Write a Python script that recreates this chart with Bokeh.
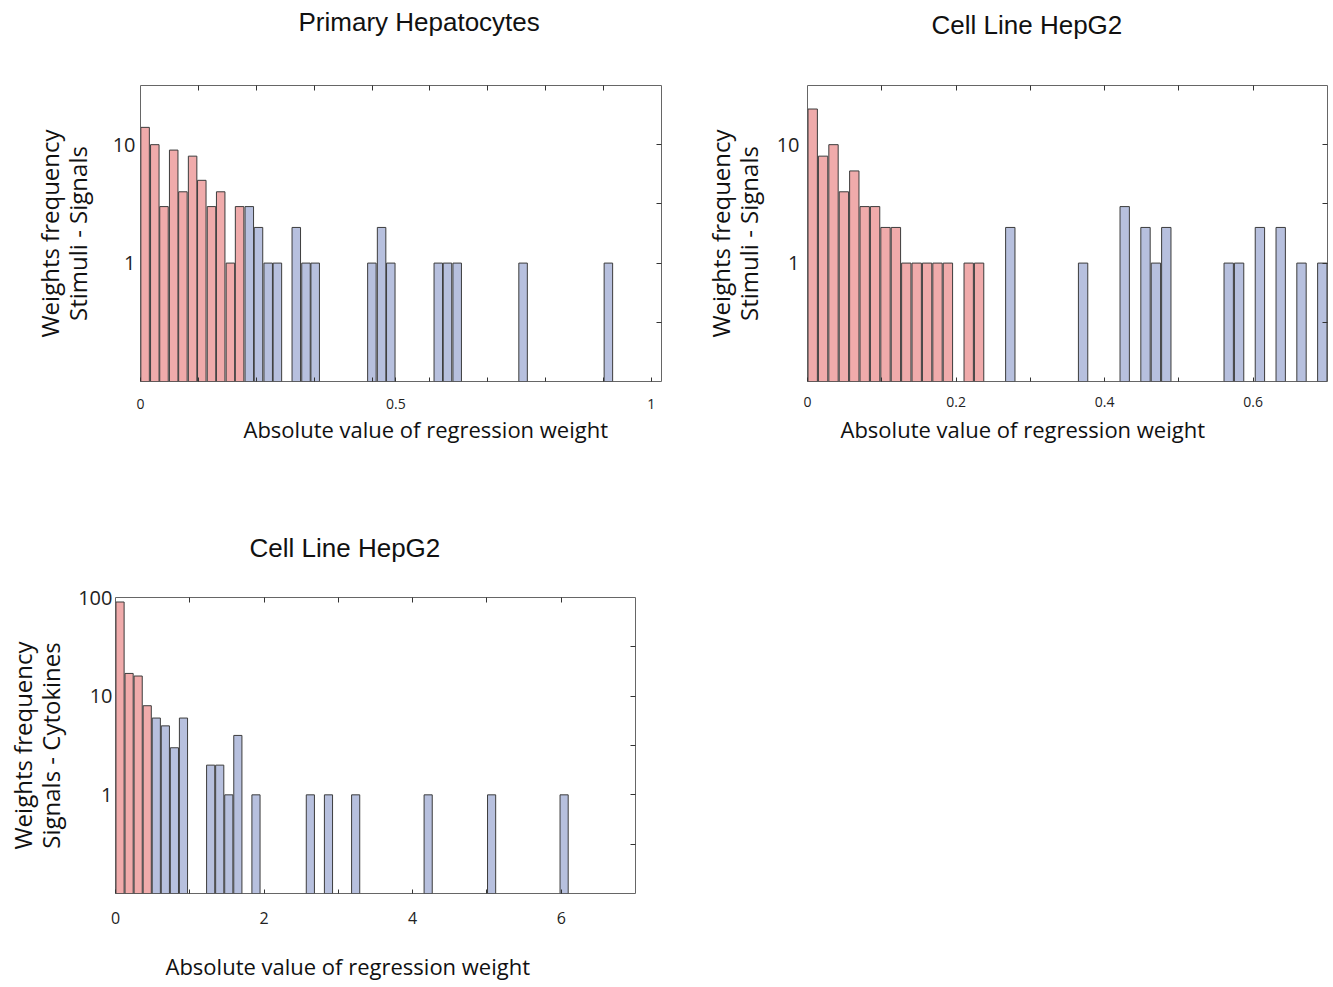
from bokeh.plotting import figure
from bokeh.models import (Range1d, LogAxis, LinearAxis, FixedTicker, Title,
                          ColumnDataSource, BasicTickFormatter)
from bokeh.layouts import column, row
from bokeh.embed import file_html
from bokeh.resources import INLINE

# ---------------- data ----------------
# Panel 1: Primary Hepatocytes (Stimuli - Signals)
P1_BIN_CENTERS = [0.009, 0.028, 0.046, 0.065, 0.083, 0.102, 0.120, 0.139, 0.157, 0.176, 0.194,
                  0.213, 0.231, 0.250, 0.268, 0.305, 0.324, 0.342, 0.453, 0.472, 0.490,
                  0.583, 0.601, 0.620, 0.749, 0.916]
P1_COUNTS = [14, 10, 3, 9, 4, 8, 5, 3, 4, 1, 3,
             3, 2, 1, 1, 2, 1, 1, 1, 2, 1, 1, 1, 1, 1, 1]
P1_N_RED = 11
P1_BIN_W = 0.0185
P1_XMAX = 1.02
P1_XTICKS = [0, 0.5, 1]
P1_XTICK_LABELS = {0: "0", 0.5: "0.5", 1: "1"}

# Panel 2: Cell Line HepG2 (Stimuli - Signals)
P2_BIN_CENTERS = [0.007, 0.021, 0.035, 0.049, 0.063, 0.077, 0.091, 0.105, 0.119, 0.133, 0.147,
                  0.161, 0.175, 0.189, 0.217, 0.231,
                  0.273, 0.371, 0.427, 0.455, 0.469, 0.483, 0.567, 0.581, 0.609, 0.637, 0.665, 0.693]
P2_COUNTS = [20, 8, 10, 4, 6, 3, 3, 2, 2, 1, 1, 1, 1, 1, 1, 1,
             2, 1, 3, 2, 1, 2, 1, 1, 2, 2, 1, 1]
P2_N_RED = 16
P2_BIN_W = 0.014
P2_XMAX = 0.7
P2_XTICKS = [0, 0.2, 0.4, 0.6]
P2_XTICK_LABELS = {0: "0", 0.2: "0.2", 0.4: "0.4", 0.6: "0.6"}

# Panel 3: Cell Line HepG2 (Signals - Cytokines)
P3_BIN_CENTERS = [0.061, 0.183, 0.305, 0.427, 0.549, 0.671, 0.793, 0.915, 1.281, 1.403, 1.525,
                  1.647, 1.891, 2.623, 2.867, 3.233, 4.209, 5.063, 6.039]
P3_COUNTS = [90, 17, 16, 8, 6, 5, 3, 6, 2, 2, 1, 4, 1, 1, 1, 1, 1, 1, 1]
P3_N_RED = 4
P3_BIN_W = 0.122
P3_XMAX = 7
P3_XTICKS = [0, 2, 4, 6]
P3_XTICK_LABELS = {0: "0", 2: "2", 4: "4", 6: "6"}

X_LABEL = "Absolute value of regression weight"
Y_FLOOR = 0.1
Y_TOP_12 = 31.6
Y_TOP_3 = 100

RED = "#F0ABAB"
BLUE = "#B7C0DE"
EDGE = "#3c3c3c"
FRAME = "#666666"
LABEL_FONT = "Open Sans"
TITLE_FONT = "Liberation Sans"


def blank_band(xmax, size):
    """An axis with one practically transparent tick: only reserves room."""
    return LinearAxis(ticker=FixedTicker(ticks=[xmax / 2]), axis_line_color=None,
                      major_tick_in=0, major_tick_out=size,
                      major_tick_line_color="white", major_tick_line_alpha=0.01,
                      minor_tick_in=0, minor_tick_out=0,
                      major_label_text_color=None, major_label_standoff=0)


def panel(title, ylabel, centers, counts, n_red, bin_w, xmax, ytop,
          xticks, xlabels, top_ticks, bottom_minor, yticks, ylabels_map, right_ticks,
          width, height, bl, br, bt, bb, title_offset, title_space,
          xlab_standoff, xlabel_offset, xlabel_space, ytick_standoff, ylab_standoff, xtick_size):
    p = figure(width=width, height=height, output_backend="svg", toolbar_location=None,
               x_range=Range1d(0, xmax), y_range=Range1d(Y_FLOOR, ytop), y_axis_type="log",
               min_border_left=bl, min_border_right=br, min_border_top=bt, min_border_bottom=bb)
    p.title = Title(text=title, align="left", text_font=TITLE_FONT, text_font_size="26px",
                    text_font_style="normal", text_color="#111111",
                    offset=title_offset, standoff=0)
    p.xgrid.visible = False
    p.ygrid.visible = False
    p.outline_line_color = FRAME
    p.outline_line_width = 1
    p.background_fill_color = "white"
    p.border_fill_color = "white"

    red = ColumnDataSource(dict(x=centers[:n_red], top=counts[:n_red]))
    blue = ColumnDataSource(dict(x=centers[n_red:], top=counts[n_red:]))
    for src, col in ((red, RED), (blue, BLUE)):
        p.vbar(x="x", top="top", bottom=Y_FLOOR, width=bin_w * 0.9, source=src,
               fill_color=col, line_color=EDGE, line_width=1)

    # bottom axis
    xa = p.xaxis[0]
    xa.ticker = FixedTicker(ticks=xticks, minor_ticks=bottom_minor)
    xa.major_label_overrides = xlabels
    xa.axis_line_color = None
    xa.major_tick_in = 4
    xa.major_tick_out = 0
    xa.minor_tick_in = 4
    xa.minor_tick_out = 0
    xa.major_tick_line_color = "#333333"
    xa.minor_tick_line_color = "#333333"
    xa.major_label_text_font = LABEL_FONT
    xa.major_label_text_font_size = xtick_size
    xa.major_label_text_color = "#222222"
    xa.major_label_standoff = xlab_standoff
    if xlabel_space > 0:
        p.add_layout(blank_band(xmax, xlabel_space), "below")
    # x-axis title, placed off-centre as in the reference
    p.add_layout(Title(text=X_LABEL, align="left", offset=xlabel_offset, standoff=0,
                       text_font=LABEL_FONT, text_font_size="22px", text_font_style="normal",
                       text_color="#111111"), "below")

    # left axis
    ya = p.yaxis[0]
    ya.ticker = FixedTicker(ticks=yticks)
    ya.formatter = BasicTickFormatter()
    ya.major_label_overrides = ylabels_map
    ya.axis_line_color = None
    ya.major_tick_in = 0
    ya.major_tick_out = 0
    ya.minor_tick_in = 0
    ya.minor_tick_out = 0
    ya.major_label_text_font = LABEL_FONT
    ya.major_label_text_font_size = "20px"
    ya.major_label_text_color = "#222222"
    ya.major_label_standoff = ytick_standoff
    ya.axis_label = ylabel
    ya.axis_label_text_font = LABEL_FONT
    ya.axis_label_text_font_size = "24px"
    ya.axis_label_text_line_height = 0.85
    ya.axis_label_text_font_style = "normal"
    ya.axis_label_text_color = "#111111"
    ya.axis_label_standoff = ylab_standoff

    # top tick marks
    top = LinearAxis(ticker=FixedTicker(ticks=top_ticks), axis_line_color=None,
                     major_tick_in=5, major_tick_out=0, minor_tick_in=0, minor_tick_out=0,
                     major_tick_line_color="#333333",
                     major_label_text_color=None, major_label_text_font_size="11px",
                     major_label_standoff=0)
    p.add_layout(top, "above")
    # blank band between the frame and the title
    p.add_layout(blank_band(xmax, title_space), "above")
    # right tick marks
    right = LogAxis(ticker=FixedTicker(ticks=right_ticks), axis_line_color=None,
                    major_tick_in=5, major_tick_out=0, minor_tick_in=0, minor_tick_out=0,
                    major_tick_line_color="#333333",
                    major_label_overrides={t: "" for t in right_ticks},
                    major_label_text_color=None, major_label_text_font_size="1px",
                    major_label_standoff=0)
    p.add_layout(right, "right")
    return p


HALF_DEC_12 = [10 ** -0.5, 1, 10 ** 0.5, 10]
HALF_DEC_3 = [10 ** -0.5, 1, 10 ** 0.5, 10, 10 ** 1.5]

p1 = panel("Primary Hepatocytes", "Weights frequency\nStimuli - Signals",
           P1_BIN_CENTERS, P1_COUNTS, P1_N_RED, P1_BIN_W, P1_XMAX, Y_TOP_12,
           P1_XTICKS, P1_XTICK_LABELS, [P1_XMAX * k / 9 for k in range(1, 9)],
           [P1_XMAX * k / 9 for k in range(1, 9)],
           [1, 10], {1: "1", 10: "10"}, HALF_DEC_12,
           width=700, height=470, bl=140, br=39, bt=85, bb=89,
           title_offset=158, title_space=49,
           xlab_standoff=17, xlabel_offset=103, xlabel_space=0,
           ytick_standoff=5, ylab_standoff=16, xtick_size="14px")

p2 = panel("Cell Line HepG2", "Weights frequency\nStimuli - Signals",
           P2_BIN_CENTERS, P2_COUNTS, P2_N_RED, P2_BIN_W, P2_XMAX, Y_TOP_12,
           P2_XTICKS, P2_XTICK_LABELS, [0.1, 0.2, 0.3, 0.4, 0.5, 0.6],
           [0.1, 0.3, 0.5],
           [1, 10], {1: "1", 10: "10"}, HALF_DEC_12,
           width=629, height=470, bl=106, br=2, bt=85, bb=89,
           title_offset=124, title_space=46,
           xlab_standoff=15, xlabel_offset=33, xlabel_space=2,
           ytick_standoff=8, ylab_standoff=9, xtick_size="14px")

p3 = panel("Cell Line HepG2", "Weights frequency\nSignals - Cytokines",
           P3_BIN_CENTERS, P3_COUNTS, P3_N_RED, P3_BIN_W, P3_XMAX, Y_TOP_3,
           P3_XTICKS, P3_XTICK_LABELS, [1, 2, 3, 4, 5, 6],
           [1, 3, 5],
           [1, 10, 100], {1: "1", 10: "10", 100: "100"}, HALF_DEC_3,
           width=655, height=517, bl=115, br=20, bt=127, bb=94,
           title_offset=134, title_space=35,
           xlab_standoff=18, xlabel_offset=50, xlabel_space=22,
           ytick_standoff=3, ylab_standoff=8, xtick_size="16px")

layout = column(row(p1, p2), row(p3))
open("out.html", "w").write(file_html(layout, INLINE))
